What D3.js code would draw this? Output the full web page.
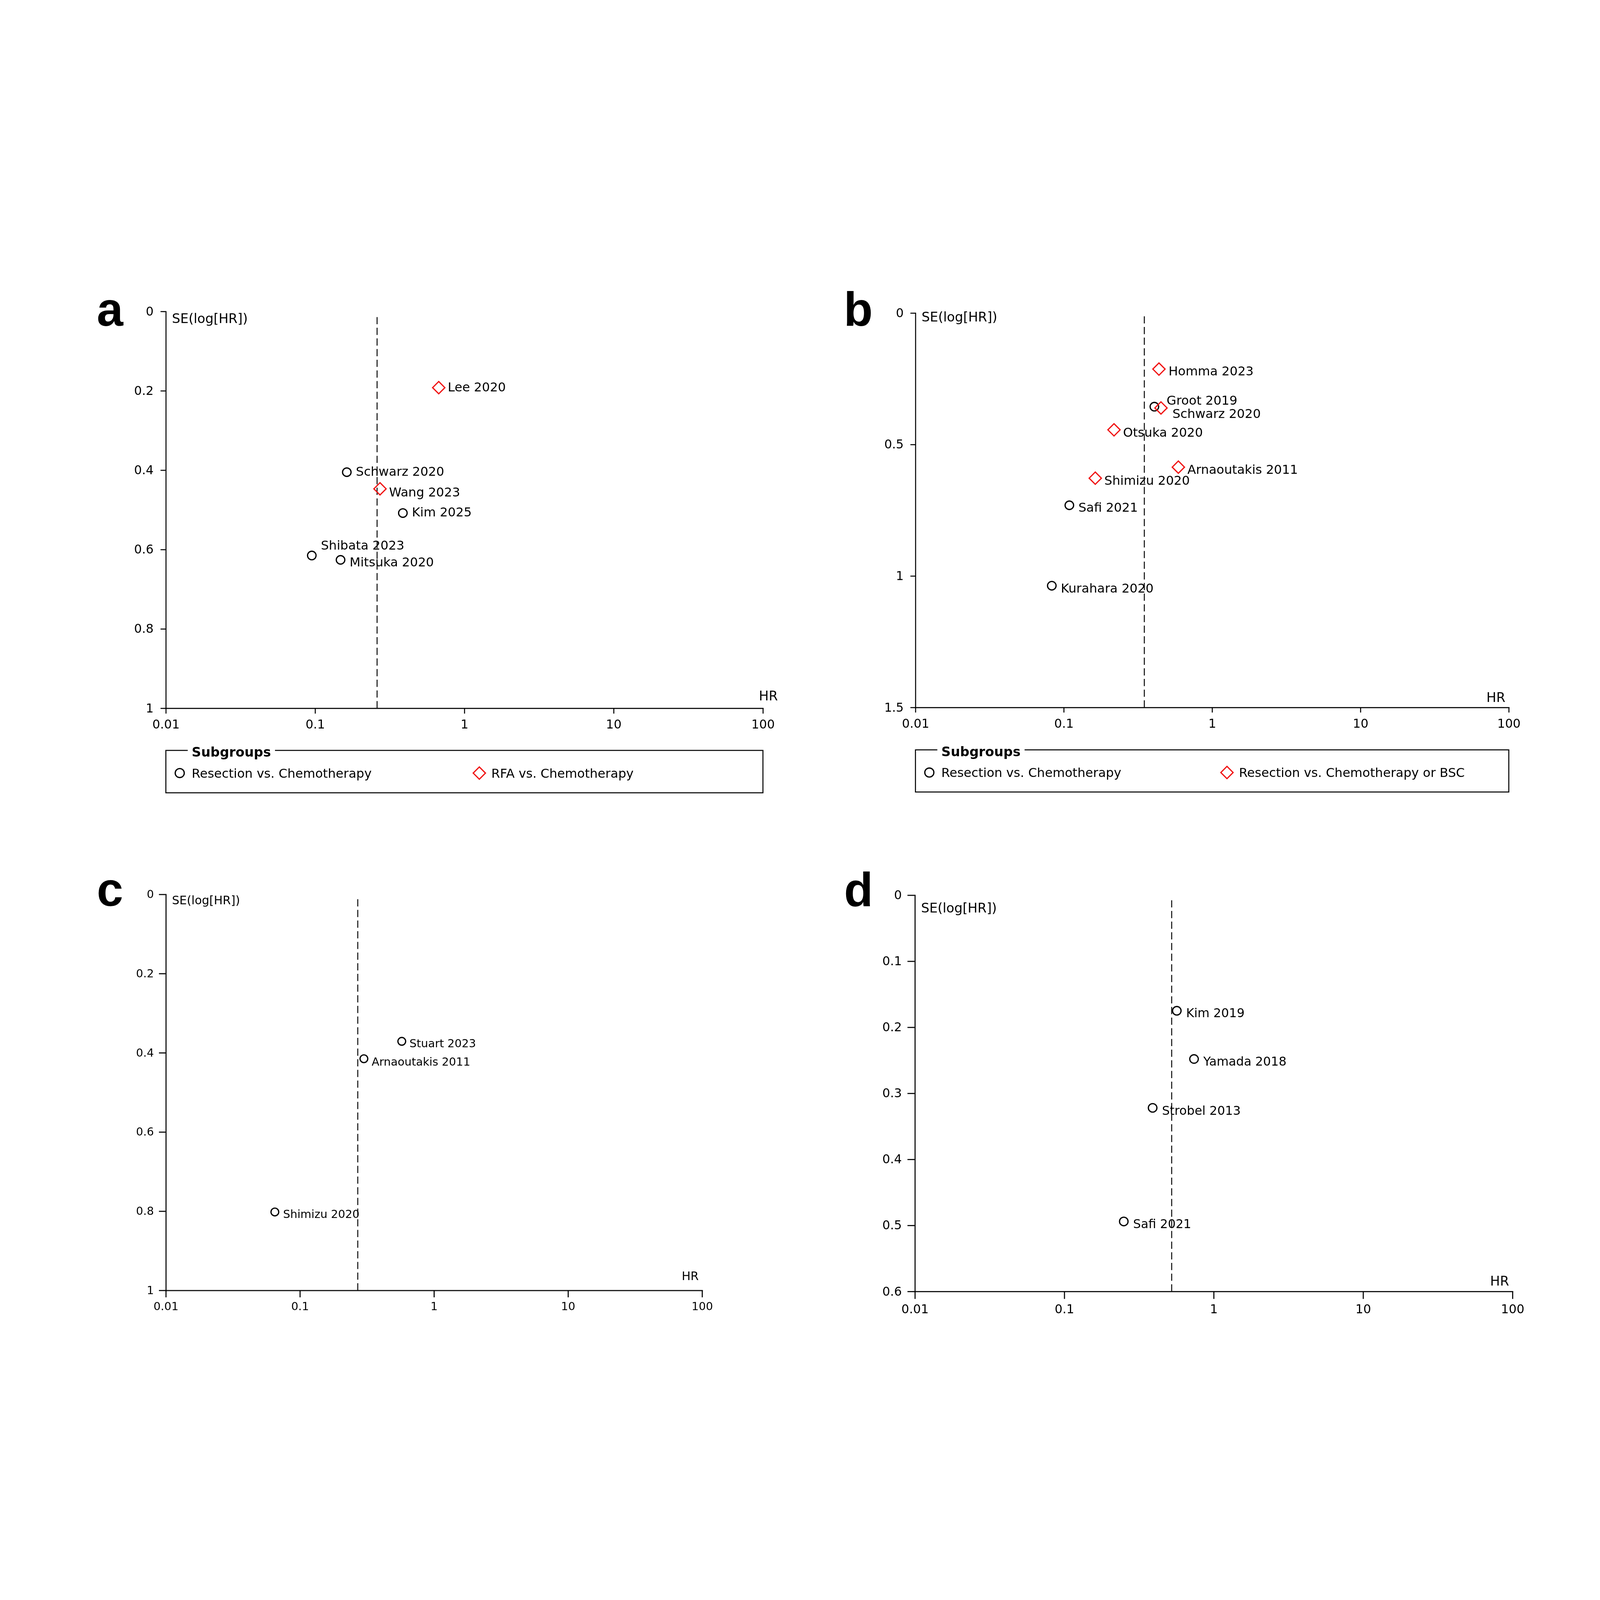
<!DOCTYPE html>
<html>
<head>
<meta charset="utf-8">
<script src="https://cdn.jsdelivr.net/npm/d3@7"></script>
<style>
  html, body { margin: 0; padding: 0; background: #fff; width: 100%; height: 100%; overflow: hidden; }
  svg { display: block; position: fixed; left: 0; top: 0; width: 100vw; height: 100vh; }
</style>
</head>
<body>
<script>
// ---------------- DATA ----------------
const xTickValues = [0.01, 0.1, 1, 10, 100];
const aYTicks = [0, 0.2, 0.4, 0.6, 0.8, 1];
const bYTicks = [0, 0.5, 1, 1.5];
const cYTicks = [0, 0.2, 0.4, 0.6, 0.8, 1];
const dYTicks = [0, 0.1, 0.2, 0.3, 0.4, 0.5, 0.6];

const aStudies = ["Lee 2020", "Schwarz 2020", "Wang 2023", "Kim 2025", "Shibata 2023", "Mitsuka 2020"];
const aHR      = [0.673, 0.163, 0.272, 0.387, 0.095, 0.148];
const aSE      = [0.192, 0.405, 0.447, 0.508, 0.615, 0.626];
const aGroup   = [1, 0, 1, 0, 0, 0];
const aPooledHR = 0.26;
const aLegend  = ["Resection vs. Chemotherapy", "RFA vs. Chemotherapy"];

const bStudies = ["Homma 2023", "Groot 2019", "Schwarz 2020", "Otsuka 2020", "Arnaoutakis 2011", "Shimizu 2020", "Safi 2021", "Kurahara 2020"];
const bHR      = [0.438, 0.408, 0.452, 0.218, 0.592, 0.163, 0.109, 0.083];
const bSE      = [0.213, 0.356, 0.361, 0.444, 0.586, 0.628, 0.731, 1.037];
const bGroup   = [1, 0, 1, 1, 1, 1, 0, 0];
const bPooledHR = 0.349;
const bLegend  = ["Resection vs. Chemotherapy", "Resection vs. Chemotherapy or BSC"];

const cStudies = ["Stuart 2023", "Arnaoutakis 2011", "Shimizu 2020"];
const cHR      = [0.575, 0.30, 0.065];
const cSE      = [0.371, 0.415, 0.802];
const cGroup   = [0, 0, 0];
const cPooledHR = 0.27;

const dStudies = ["Kim 2019", "Yamada 2018", "Strobel 2013", "Safi 2021"];
const dHR      = [0.566, 0.738, 0.390, 0.250];
const dSE      = [0.175, 0.248, 0.322, 0.494];
const dGroup   = [0, 0, 0, 0];
const dPooledHR = 0.523;

const legendTitle = "Subgroups";
const xTitle = "HR";
const yTitle = "SE(log[HR])";

// ---------------- LAYOUT (positions / styles only) ----------------
const aLabelOffsets = [[36,-2.5],[36,-4],[36,12.5],[36,-4],[36,-39],[36,7.5]];
const bLabelOffsets = [[38,7.5],[48,-25],[45,21],[36,9],[36,7.5],[36,7.5],[36,7.5],[36,9]];
const cLabelOffsets = [[31,7],[31,10],[33,7]];
const dLabelOffsets = [[37,8],[37,8],[37,10],[37,8]];

const panels = [
  {letter:"a", studies:aStudies, hr:aHR, se:aSE, group:aGroup, pooled:aPooledHR, yTicks:aYTicks, yMax:1, legend:aLegend, offs:aLabelOffsets,
   x0:622, x1:2861, y0:268, y1:1756, lx:363, ly:322, tick:20, ypad:26, xpad:24, fTick:46, fLab:47, fTitle:49,
   seY:312, hrX:2846, hrY:1727, hrAnchor:"start", r:16, dia:23, sw:3.8, legY:1914, legH:159},
  {letter:"b", studies:bStudies, hr:bHR, se:bSE, group:bGroup, pooled:bPooledHR, yTicks:bYTicks, yMax:1.5, legend:bLegend, offs:bLabelOffsets,
   x0:3433, x1:5658, y0:274, y1:1753, lx:3164, ly:322, tick:19, ypad:25, xpad:25, fTick:46, fLab:47, fTitle:49,
   seY:305, hrX:5645, hrY:1733, hrAnchor:"end", r:16, dia:23, sw:3.8, legY:1912, legH:158},
  {letter:"c", studies:cStudies, hr:cHR, se:cSE, group:cGroup, pooled:cPooledHR, yTicks:cYTicks, yMax:1, legend:null, offs:cLabelOffsets,
   x0:622, x1:2633, y0:2454, y1:3939, lx:363, ly:2497, tick:26, ypad:19, xpad:18, fTick:42, fLab:42, fTitle:44,
   seY:2491, hrX:2620, hrY:3900, hrAnchor:"end", r:14.5, dia:21, sw:4},
  {letter:"d", studies:dStudies, hr:dHR, se:dSE, group:dGroup, pooled:dPooledHR, yTicks:dYTicks, yMax:0.6, legend:null, offs:dLabelOffsets,
   x0:3431, x1:5672, y0:2457, y1:3943, lx:3165, ly:2498, tick:28, ypad:21, xpad:21, fTick:46, fLab:46, fTitle:49,
   seY:2522, hrX:5659, hrY:3921, hrAnchor:"end", r:16, dia:23, sw:4}
];

const RED = "#f01414";
const FONT = "'DejaVu Sans', sans-serif";
const MARKER_SW = 4.6;

const svg = d3.select("body").append("svg")
  .attr("viewBox", "0 0 6000 4200")
  .attr("preserveAspectRatio", "xMidYMid meet");
svg.append("rect").attr("width", 6000).attr("height", 4200).attr("fill", "#fff");

const circleSym = r => d3.symbol().type(d3.symbolCircle).size(Math.PI * r * r)();
function diamondPath(h) { return `M0,${-h}L${h},0L0,${h}L${-h},0Z`; }

panels.forEach(p => {
  const g = svg.append("g");
  const x = d3.scaleLog().domain([0.01, 100]).range([p.x0, p.x1]);
  const y = d3.scaleLinear().domain([0, p.yMax]).range([p.y0, p.y1]);

  // panel letter
  g.append("text").attr("x", p.lx).attr("y", p.ly)
    .attr("font-family", "'Liberation Sans', Arial, sans-serif")
    .attr("font-weight", "bold").attr("font-size", 178).attr("fill", "#000")
    .text(p.letter);

  // axes
  const yAxis = d3.axisLeft(y).tickValues(p.yTicks).tickSize(p.tick).tickSizeOuter(0)
    .tickPadding(p.ypad).tickFormat(d => String(d));
  const xAxis = d3.axisBottom(x).tickValues(xTickValues).tickSize(p.tick).tickSizeOuter(0)
    .tickPadding(p.xpad).tickFormat(d => String(d));

  const gy = g.append("g").attr("transform", `translate(${p.x0},0)`).call(yAxis);
  const gx = g.append("g").attr("transform", `translate(0,${p.y1})`).call(xAxis);
  [gx, gy].forEach(ax => {
    ax.attr("font-family", FONT).attr("font-size", p.fTick);
    ax.select(".domain").attr("stroke", "#000").attr("stroke-width", p.sw).attr("stroke-linecap", "square");
    ax.selectAll(".tick line").attr("stroke", "#000").attr("stroke-width", p.sw);
    ax.selectAll(".tick text").attr("fill", "#000");
  });

  // axis titles
  g.append("text").attr("x", p.x0 + 23).attr("y", p.seY)
    .attr("font-family", FONT).attr("font-size", p.fTitle).attr("fill", "#000").text(yTitle);
  g.append("text").attr("x", p.hrX).attr("y", p.hrY).attr("text-anchor", p.hrAnchor)
    .attr("font-family", FONT).attr("font-size", p.fTitle).attr("fill", "#000").text(xTitle);

  // pooled estimate dashed line (drawn from bottom upward)
  g.append("line")
    .attr("x1", x(p.pooled)).attr("x2", x(p.pooled))
    .attr("y1", y(p.yMax)).attr("y2", y(0) + 10)
    .attr("stroke", "#111").attr("stroke-width", 3.8)
    .attr("stroke-dasharray", "27,13");

  // points
  const data = p.studies.map((s, i) => ({name: s, hr: p.hr[i], se: p.se[i], grp: p.group[i], off: p.offs[i]}));
  const pts = g.append("g");
  pts.selectAll("path").data(data).join("path")
    .attr("transform", d => `translate(${x(d.hr)},${y(d.se)})`)
    .attr("d", d => d.grp === 1 ? diamondPath(p.dia) : circleSym(p.r))
    .attr("fill", "none")
    .attr("stroke", d => d.grp === 1 ? RED : "#000")
    .attr("stroke-width", MARKER_SW);

  g.append("g").selectAll("text").data(data).join("text")
    .attr("x", d => x(d.hr) + d.off[0] - 2)
    .attr("y", d => y(d.se) + d.off[1] + 0.36 * p.fLab)
    .attr("font-family", FONT).attr("font-size", p.fLab).attr("fill", "#000")
    .text(d => d.name);

  // legend
  if (p.legend) {
    const W = p.x1 - p.x0;
    const lg = g.append("g");
    lg.append("rect").attr("x", p.x0).attr("y", p.legY).attr("width", W).attr("height", p.legH)
      .attr("fill", "none").attr("stroke", "#000").attr("stroke-width", 3.8);
    const title = lg.append("text").attr("x", p.x0 + 97).attr("y", p.legY + 24)
      .attr("font-family", FONT).attr("font-weight", "bold").attr("font-size", 49).attr("fill", "#000")
      .text(legendTitle);
    const tw = title.node().getComputedTextLength();
    lg.insert("rect", "text").attr("x", p.x0 + 97 - 15).attr("y", p.legY - 6)
      .attr("width", tw + 30).attr("height", 12).attr("fill", "#fff");
    const rowY = p.legY + 85;
    const cols = [p.x0 + 52, p.x0 + 0.525 * W];
    p.legend.forEach((lab, i) => {
      lg.append("path").attr("transform", `translate(${cols[i]},${rowY})`)
        .attr("d", i === 1 ? diamondPath(p.dia) : circleSym(p.r + 1))
        .attr("fill", "none").attr("stroke", i === 1 ? RED : "#000").attr("stroke-width", MARKER_SW);
      lg.append("text").attr("x", cols[i] + 45).attr("y", rowY + 0.36 * 47)
        .attr("font-family", FONT).attr("font-size", 47).attr("fill", "#000").text(lab);
    });
  }
});
</script>
</body>
</html>
